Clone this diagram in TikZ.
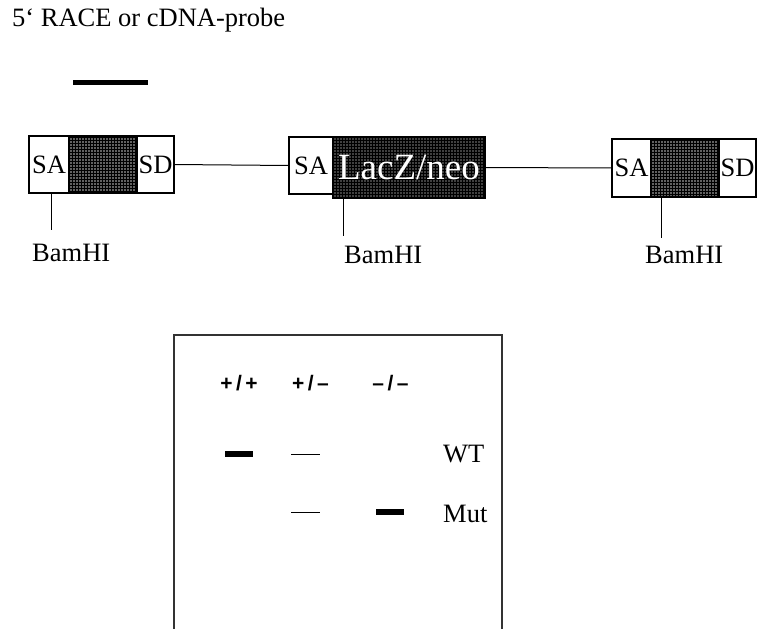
\documentclass[tikz,border=0pt]{standalone}
\usepackage{fontspec}
\setmainfont{Liberation Serif}
\setsansfont{Liberation Sans}
\usepackage{tikz}
\usetikzlibrary{patterns}

\tikzset{
  cell/.style={draw, line width=1.2pt, inner sep=0pt, outer sep=0pt,
    minimum height=57pt, font=\fontsize{26.5}{30}\selectfont},
  exon/.style={cell, preaction={fill=black!62}, pattern=grid, pattern color=black},
  cassette/.style={cell, preaction={fill=black!75}, pattern=grid, pattern color=black,
    text=white, font=\fontsize{37}{40}\selectfont},
  site/.style={anchor=base west, inner sep=0pt, font=\fontsize{26.5}{30}\selectfont},
  geno/.style={font=\sffamily\bfseries\fontsize{21}{24}\selectfont},
  link/.style={line width=1pt},
  band/.style={line width=6pt},
  faint/.style={line width=1pt}
}

\begin{document}
\begin{tikzpicture}[x=1pt,y=-1pt]
    \useasboundingbox (0,0) rectangle (758,629);
    % probe
    \node[site] (title) at (12,26) {5‘ RACE or cDNA-probe};
    \draw[line width=5pt] (73,82.5) -- (148,82.5);
    % wild type exon
    \node[cell, minimum width=40pt] (sa1) at (49,164.5) {SA};
    \node[exon, minimum width=68pt] (ex1) at (103,164.5) {};
    \node[cell, minimum width=37pt] (sd1) at (155.5,164.5) {SD};
    % trap cassette
    \node[cell, minimum width=44pt] (sa2) at (311,165.5) {SA};
    \node[cassette, minimum width=152pt, minimum height=61pt] (lac) at (409,167.5) {LacZ/neo};
    % downstream exon
    \node[cell, minimum width=39pt, minimum height=58pt] (sa3) at (631.5,168) {SA};
    \node[exon, minimum width=68pt, minimum height=58pt] (ex3) at (685,168) {};
    \node[cell, minimum width=37pt, minimum height=58pt] (sd3) at (737.5,168) {SD};
    \draw[link] (sd1.east) -- (sa2.west);
    \draw[link] (lac.east) -- (sa3.west);
    % BamHI sites
    \node[site] (bam1) at (32,261) {BamHI};
    \node[site] (bam2) at (344,263) {BamHI};
    \node[site] (bam3) at (645,263) {BamHI};
    \draw[link] ([xshift=2pt]sa1.south) -- ++(0,37);
    \draw[link] ([xshift=10pt]lac.south west) -- ++(0,38);
    \draw[link] ([xshift=10pt]ex3.south west) -- ++(0,41);
    % blot
    \draw[line width=1.5pt, black!80] (174,629) |- (502,335) -- (502,629);
    \node[geno] (wt) at (239,383) {+\,/\,+};
    \node[geno] (het) at (310.5,383) {+\,/\,–};
    \node[geno] (ko) at (390.5,383) {–\,/\,–};
    \draw[band] (225,454) -- (253,454);
    \draw[faint] (291,454) -- (320,454);
    \draw[faint] (291,512) -- (320,512);
    \draw[band] (376,512) -- (404,512);
    \node[site] (wtlab) at (443,462) {WT};
    \node[site] (mutlab) at (443,522) {Mut};
\end{tikzpicture}
\end{document}
